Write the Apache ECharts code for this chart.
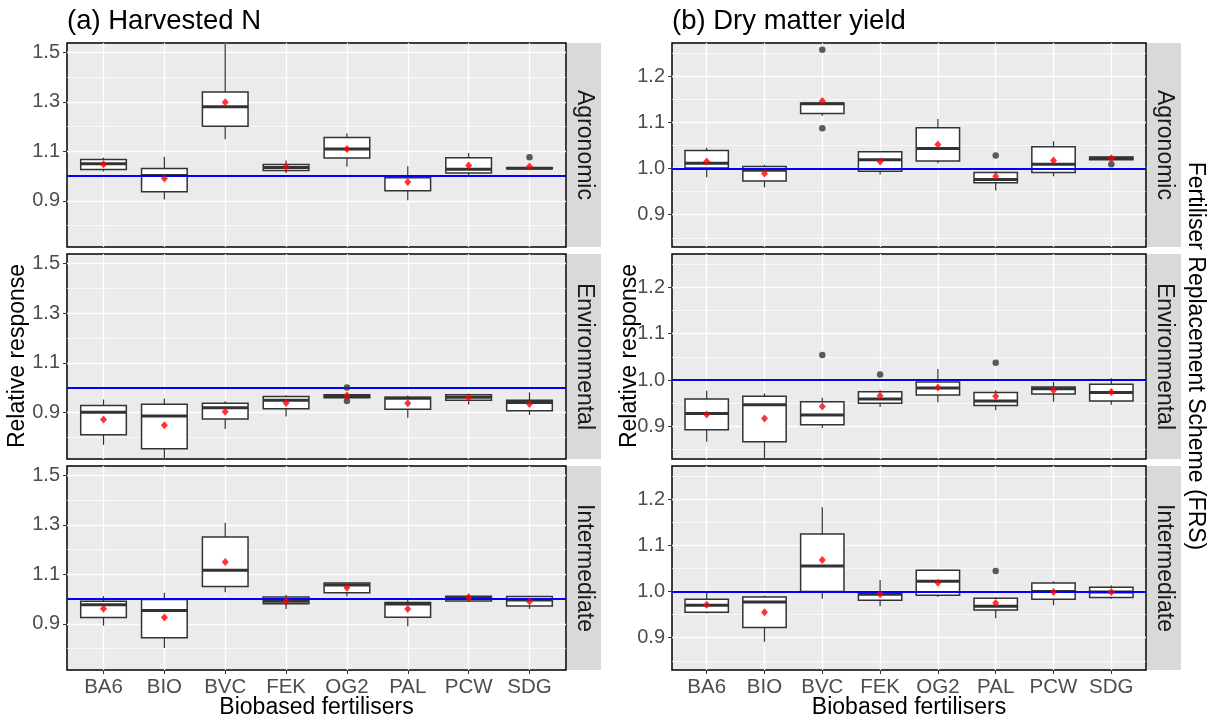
<!DOCTYPE html>
<html>
<head>
<meta charset="utf-8">
<script src="https://cdn.jsdelivr.net/npm/echarts@6/dist/echarts.min.js"></script>
<style>
  html, body { margin: 0; background: #fff; }
  #chart { width: 1214px; height: 720px; }
</style>
</head>
<body>
<div id="chart"></div>
<script>
const categories = ["BA6", "BIO", "BVC", "FEK", "OG2", "PAL", "PCW", "SDG"];
const schemes = ["Agronomic", "Environmental", "Intermediate"];

// tick values for the two response scales
const nTicks = [0.9, 1.1, 1.3, 1.5];
const nMinorTicks = [0.8, 1.0, 1.2, 1.4];
const dmTicks = [0.9, 1.0, 1.1, 1.2];
const dmMinorTicks = [0.85, 0.95, 1.05, 1.15, 1.25];

// (a) Harvested N -- [min, Q1, median, Q3, max] per fertiliser
const nAgronomicBox = [
	[1.019, 1.027, 1.05, 1.067, 1.075],
	[0.906, 0.937, 1.003, 1.031, 1.079],
	[1.149, 1.202, 1.28, 1.34, 1.537],
	[1.013, 1.023, 1.035, 1.047, 1.063],
	[1.038, 1.073, 1.11, 1.156, 1.172],
	[0.903, 0.941, 0.997, 1.001, 1.04],
	[1.004, 1.013, 1.028, 1.075, 1.094],
	[1.029, 1.03, 1.032, 1.034, 1.035],
];
const nAgronomicMean = [1.048, 0.991, 1.299, 1.038, 1.11, 0.977, 1.043, 1.039];
const nAgronomicOut = [[7, 1.077]];

const nEnvironmentalBox = [
	[0.771, 0.811, 0.902, 0.929, 0.953],
	[0.712, 0.755, 0.887, 0.934, 0.957],
	[0.835, 0.875, 0.92, 0.938, 0.946],
	[0.885, 0.916, 0.95, 0.965, 0.97],
	[0.959, 0.96, 0.966, 0.972, 0.973],
	[0.88, 0.914, 0.958, 0.962, 0.969],
	[0.933, 0.95, 0.962, 0.972, 0.977],
	[0.891, 0.908, 0.941, 0.95, 0.982],
];
const nEnvironmentalMean = [0.873, 0.85, 0.904, 0.939, 0.969, 0.938, 0.96, 0.935];
const nEnvironmentalOut = [[4, 1.001], [4, 0.947]];

const nIntermediateBox = [
	[0.893, 0.926, 0.978, 0.992, 1.012],
	[0.803, 0.844, 0.954, 0.999, 1.026],
	[1.028, 1.051, 1.117, 1.251, 1.309],
	[0.96, 0.982, 0.992, 1.009, 1.018],
	[1.011, 1.026, 1.057, 1.065, 1.067],
	[0.891, 0.927, 0.981, 0.987, 1.005],
	[0.989, 0.993, 1.003, 1.012, 1.022],
	[0.961, 0.973, 0.997, 1.011, 1.013],
];
const nIntermediateMean = [0.961, 0.926, 1.15, 0.992, 1.046, 0.96, 1.007, 0.991];
const nIntermediateOut = [];

// (b) Dry matter yield
const dmAgronomicBox = [
	[0.981, 1.001, 1.011, 1.039, 1.045],
	[0.959, 0.973, 0.996, 1.004, 1.008],
	[1.114, 1.119, 1.14, 1.141, 1.143],
	[0.987, 0.994, 1.019, 1.036, 1.037],
	[1.011, 1.016, 1.043, 1.088, 1.107],
	[0.952, 0.969, 0.976, 0.991, 0.994],
	[0.983, 0.991, 1.009, 1.047, 1.059],
	[1.018, 1.019, 1.022, 1.025, 1.026],
];
const dmAgronomicMean = [1.015, 0.989, 1.146, 1.015, 1.052, 0.983, 1.017, 1.022];
const dmAgronomicOut = [[2, 1.257], [2, 1.087], [5, 1.028], [7, 1.009]];

const dmEnvironmentalBox = [
	[0.867, 0.893, 0.928, 0.959, 0.977],
	[0.829, 0.867, 0.947, 0.965, 0.971],
	[0.897, 0.904, 0.925, 0.953, 0.962],
	[0.942, 0.95, 0.959, 0.975, 0.978],
	[0.952, 0.968, 0.983, 0.996, 1.024],
	[0.935, 0.945, 0.955, 0.973, 0.978],
	[0.953, 0.97, 0.981, 0.985, 0.996],
	[0.947, 0.955, 0.973, 0.991, 1.004],
];
const dmEnvironmentalMean = [0.926, 0.917, 0.943, 0.966, 0.984, 0.965, 0.978, 0.974];
const dmEnvironmentalOut = [[2, 1.054], [3, 1.012], [5, 1.037]];

const dmIntermediateBox = [
	[0.952, 0.955, 0.97, 0.983, 0.999],
	[0.891, 0.922, 0.977, 0.988, 0.991],
	[0.984, 1.0, 1.055, 1.124, 1.182],
	[0.968, 0.981, 0.994, 0.999, 1.025],
	[0.988, 0.992, 1.022, 1.046, 1.046],
	[0.942, 0.96, 0.968, 0.985, 0.988],
	[0.97, 0.983, 1.0, 1.018, 1.022],
	[0.984, 0.987, 0.999, 1.009, 1.013],
];
const dmIntermediateMean = [0.971, 0.955, 1.068, 0.994, 1.019, 0.975, 0.999, 0.999];
const dmIntermediateOut = [[5, 1.044]];

const panels = [
	{ col: 0, row: 0, box: nAgronomicBox, mean: nAgronomicMean, out: nAgronomicOut },
	{ col: 0, row: 1, box: nEnvironmentalBox, mean: nEnvironmentalMean, out: nEnvironmentalOut },
	{ col: 0, row: 2, box: nIntermediateBox, mean: nIntermediateMean, out: nIntermediateOut },
	{ col: 1, row: 0, box: dmAgronomicBox, mean: dmAgronomicMean, out: dmAgronomicOut },
	{ col: 1, row: 1, box: dmEnvironmentalBox, mean: dmEnvironmentalMean, out: dmEnvironmentalOut },
	{ col: 1, row: 2, box: dmIntermediateBox, mean: dmIntermediateMean, out: dmIntermediateOut },
];

// layout of the facet grid (pixels)
const colX = [[67, 566], [672, 1146]];
const rowY = [[43, 247], [254, 459], [466, 670]];
const stripW = [34, 34];
const yRange = [[0.714, 1.538], [0.83, 1.2714]];
const majorTicks = [nTicks, dmTicks];
const minorTicks = [nMinorTicks, dmMinorTicks];

const FONT = "'Liberation Sans', Arial, sans-serif";
const grey20 = "#333333";

const grids = [], xAxes = [], yAxes = [], series = [], graphics = [];

panels.forEach((p, g) => {
	const [x0, x1] = colX[p.col];
	const [y0, y1] = rowY[p.row];
	const bottom = p.row === 2;
	grids.push({
		left: x0, top: y0, width: x1 - x0, height: y1 - y0,
		show: true, backgroundColor: "#EBEBEB", borderColor: "#000", borderWidth: 1.5,
	});
	xAxes.push({
		type: "value", gridIndex: g, min: 0.4, max: 8.6,
		axisLine: { show: false },
		axisTick: { show: bottom, customValues: [1, 2, 3, 4, 5, 6, 7, 8], length: 4, lineStyle: { color: grey20 } },
		axisLabel: {
			show: bottom, customValues: [1, 2, 3, 4, 5, 6, 7, 8], margin: 7,
			formatter: (v) => categories[Math.round(v) - 1],
			color: "#4D4D4D", fontSize: 20.5, fontFamily: FONT,
		},
		splitLine: { show: true, lineStyle: { color: "#fff", width: 1.3 } },
	});
	yAxes.push({
		type: "value", gridIndex: g, min: yRange[p.col][0], max: yRange[p.col][1],
		axisLine: { show: false },
		axisTick: { show: true, customValues: majorTicks[p.col], length: 4, lineStyle: { color: grey20 } },
		axisLabel: {
			customValues: majorTicks[p.col], margin: 7,
			formatter: (v) => v.toFixed(1),
			color: "#4D4D4D", fontSize: 20, fontFamily: FONT,
		},
		splitLine: { show: true, lineStyle: { color: "#fff", width: 1.3 } },
	});
	yAxes.push({
		type: "value", gridIndex: g, min: yRange[p.col][0], max: yRange[p.col][1],
		axisLine: { show: false },
		axisTick: { show: false, customValues: minorTicks[p.col] },
		axisLabel: { show: false, customValues: minorTicks[p.col] },
		splitLine: { show: true, lineStyle: { color: "#fff", width: 0.7 } },
	});

	series.push({
		type: "custom", xAxisIndex: g, yAxisIndex: 2 * g,
		data: p.box.map((b, i) => [i + 1].concat(b)),
		renderItem: (params, api) => {
			const x = api.value(0);
			const w = api.size([0.75, 0])[0];
			const pMin = api.coord([x, api.value(1)]);
			const pQ1 = api.coord([x, api.value(2)]);
			const pMed = api.coord([x, api.value(3)]);
			const pQ3 = api.coord([x, api.value(4)]);
			const pMax = api.coord([x, api.value(5)]);
			const line = { stroke: grey20, lineWidth: 1.2 };
			return {
				type: "group",
				children: [
					{ type: "line", shape: { x1: pMax[0], y1: pMax[1], x2: pQ3[0], y2: pQ3[1] }, style: line },
					{ type: "line", shape: { x1: pQ1[0], y1: pQ1[1], x2: pMin[0], y2: pMin[1] }, style: line },
					{
						type: "rect",
						shape: { x: pQ3[0] - w / 2, y: pQ3[1], width: w, height: pQ1[1] - pQ3[1] },
						style: { fill: "#fff", stroke: grey20, lineWidth: 1.5 },
					},
					{
						type: "line",
						shape: { x1: pMed[0] - w / 2, y1: pMed[1], x2: pMed[0] + w / 2, y2: pMed[1] },
						style: { stroke: grey20, lineWidth: 3 },
					},
				],
			};
		},
		markLine: {
			silent: true, symbol: "none", animation: false,
			label: { show: false },
			lineStyle: { color: "#0000FF", width: 2, type: "solid" },
			data: [{ yAxis: 1 }],
		},
	});
	series.push({
		type: "scatter", xAxisIndex: g, yAxisIndex: 2 * g, z: 10,
		symbol: "circle", symbolSize: 6.5,
		itemStyle: { color: grey20 },
		data: p.out.map(([i, v]) => [i + 1, v]),
	});
	series.push({
		type: "scatter", xAxisIndex: g, yAxisIndex: 2 * g, z: 11,
		symbol: "diamond", symbolSize: [7, 8],
		itemStyle: { color: "#FF0000" },
		data: p.mean.map((v, i) => [i + 1, v]),
	});

	// facet strip on the right
	graphics.push({
		type: "rect", shape: { x: x1 + 1, y: y0, width: stripW[p.col], height: y1 - y0 },
		style: { fill: "#D9D9D9" }, z: 0,
	});
	graphics.push({
		type: "text", x: x1 + 1 + stripW[p.col] / 2, y: (y0 + y1) / 2, rotation: -Math.PI / 2,
		style: { text: schemes[p.row], font: `23px ${FONT}`, fill: "#1A1A1A", textAlign: "center", textVerticalAlign: "middle" },
	});
});

const titleStyle = (text, size) => ({ text, font: `${size}px ${FONT}`, fill: "#000", textAlign: "center", textVerticalAlign: "middle" });
graphics.push(
	{ type: "text", x: 67, y: 21, style: Object.assign(titleStyle("(a) Harvested N", 27.5), { textAlign: "left" }) },
	{ type: "text", x: 672, y: 21, style: Object.assign(titleStyle("(b) Dry matter yield", 27.5), { textAlign: "left" }) },
	{ type: "text", x: 18, y: 356, rotation: Math.PI / 2, style: titleStyle("Relative response", 23) },
	{ type: "text", x: 630, y: 356, rotation: Math.PI / 2, style: titleStyle("Relative response", 23) },
	{ type: "text", x: (colX[0][0] + colX[0][1]) / 2, y: 708, style: titleStyle("Biobased fertilisers", 23) },
	{ type: "text", x: (colX[1][0] + colX[1][1]) / 2, y: 708, style: titleStyle("Biobased fertilisers", 23) },
	{ type: "text", x: 1195, y: 356, rotation: -Math.PI / 2, style: titleStyle("Fertiliser Replacement Scheme (FRS)", 23) },
);

const chart = echarts.init(document.getElementById("chart"));
chart.setOption({
	backgroundColor: "#fff",
	animation: false,
	grid: grids,
	xAxis: xAxes,
	yAxis: yAxes,
	series,
	graphic: graphics,
});
</script>
</body>
</html>
